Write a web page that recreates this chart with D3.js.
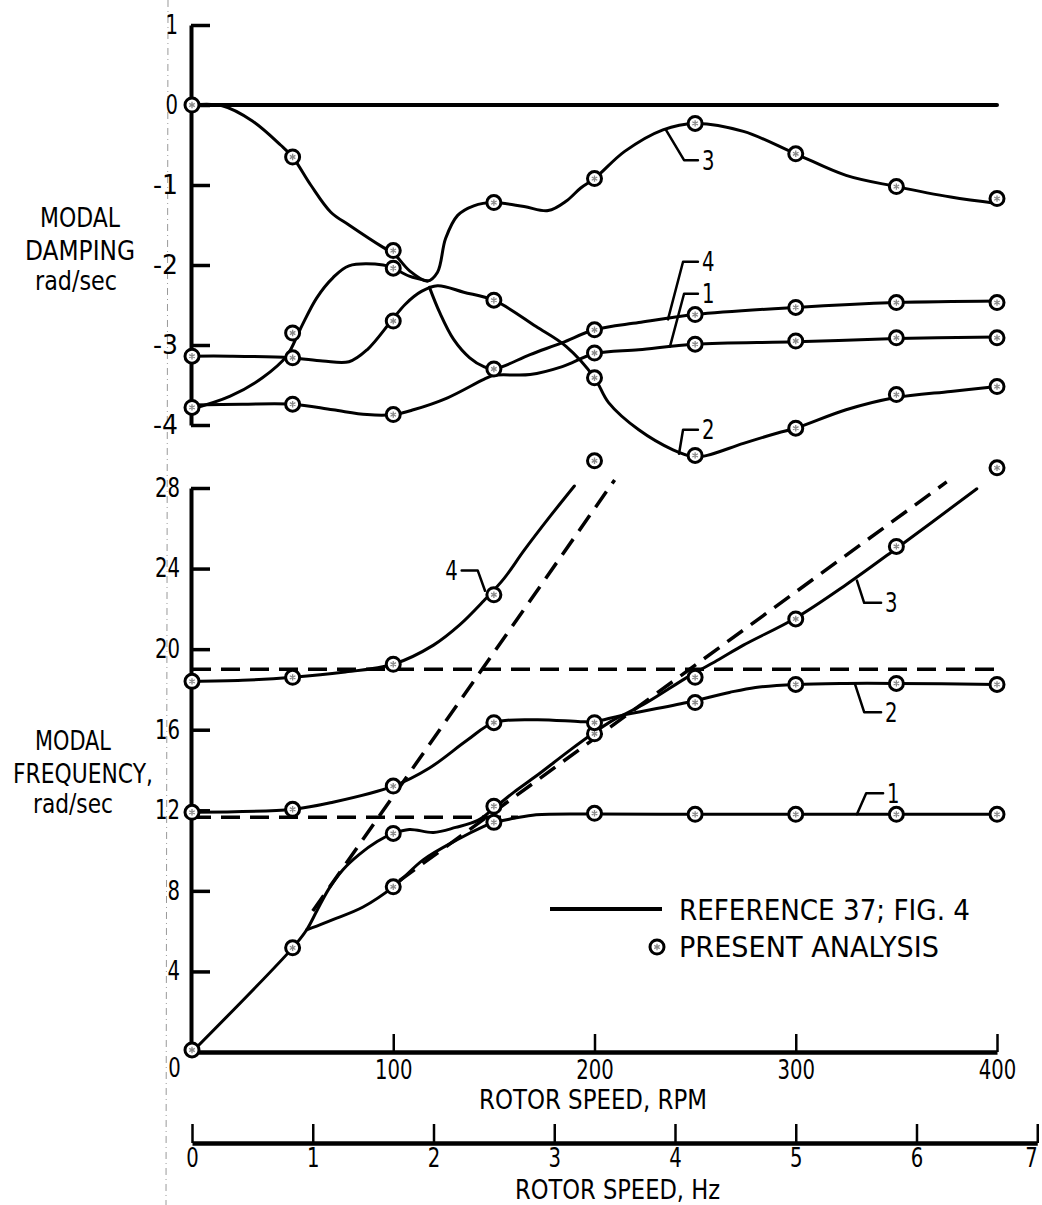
<!DOCTYPE html>
<html>
<head>
<meta charset="utf-8">
<script src="https://cdn.jsdelivr.net/npm/d3@7"></script>
<style>
  body { margin: 0; background: #fff; }
  svg text { fill: #000; }
</style>
</head>
<body>
<div id="chart"></div>
<script>
// Axis Ticks
var dampTicks = [1, 0, -1, -2, -3, -4];
var freqTicks = [4, 8, 12, 16, 20, 24, 28];
var rpmTicks = [0, 100, 200, 300, 400];
var hzTicks = [0, 1, 2, 3, 4, 5, 6, 7];

// Modal Damping Curves (Reference 37, Fig. 4) - [rpm, rad/sec]
var zeroLine = [[0, 0], [400, 0]];
var dampMode3 = [[0, 0], [15, -0.01], [30, -0.2], [44, -0.5], [50, -0.65], [59, -1.0], [69, -1.34],
  [78, -1.5], [95, -1.78], [100, -1.85], [108, -2.07], [117, -2.2], [122, -2.09], [126, -1.67],
  [132, -1.38], [140, -1.26], [150, -1.22], [165, -1.27], [177, -1.32], [186, -1.2], [193, -1.04],
  [200, -0.92], [215, -0.58], [234, -0.31], [250, -0.23], [274, -0.33], [300, -0.61], [325, -0.88],
  [350, -1.02], [377, -1.15], [400, -1.23]];
var dampJoin = [[0, -3.8], [19, -3.64], [35, -3.41], [47, -3.14], [54, -2.79], [62, -2.41], [70, -2.16],
  [78, -2.01], [95, -2.0], [100, -2.04], [108, -2.14], [117, -2.2]];
var dampMode2 = [[0, -3.14], [19, -3.14], [49, -3.16], [65, -3.2], [78, -3.21], [87, -3.06], [99, -2.7],
  [106, -2.49], [114, -2.33], [122, -2.26], [135, -2.34], [150, -2.44], [171, -2.77], [186, -3.02],
  [200, -3.41], [207, -3.72], [222, -4.06], [239, -4.31], [250, -4.4], [256, -4.38], [274, -4.23],
  [291, -4.1], [300, -4.04], [325, -3.81], [349, -3.66], [377, -3.58], [400, -3.52]];
var dampMode4 = [[118, -2.28], [123, -2.59], [130, -2.93], [138, -3.16], [145, -3.27], [150, -3.3],
  [168, -3.12], [184, -2.97], [200, -2.81], [222, -2.72], [250, -2.62], [300, -2.53], [350, -2.47],
  [400, -2.45]];
var dampMode1 = [[0, -3.75], [25, -3.74], [50, -3.74], [70, -3.81], [87, -3.87], [100, -3.87],
  [110, -3.81], [127, -3.66], [145, -3.43], [150, -3.38], [168, -3.37], [184, -3.27], [200, -3.11],
  [222, -3.06], [250, -2.99], [300, -2.96], [350, -2.92], [400, -2.9]];

// Modal Frequency Curves - [rpm, rad/sec]
var freqMode4 = [[0, 18.4], [25, 18.45], [50, 18.6], [75, 18.85], [100, 19.25], [120, 20.2],
  [133, 21.2], [145, 22.4], [155, 23.5], [165, 24.9], [178, 26.6], [190, 28.1]];
var freqMode2 = [[0, 11.9], [50, 12.05], [70, 12.4], [100, 13.2], [118, 14.1], [137, 15.5],
  [150, 16.35], [171, 16.5], [193, 16.4], [200, 16.4], [213, 16.7], [246, 17.35], [267, 17.85],
  [280, 18.1], [300, 18.25], [325, 18.3], [350, 18.3], [400, 18.25]];
var freqMode3 = [[0, 0], [50, 5.17], [57, 6.07], [62, 7.0], [68, 8.1], [75, 9.05], [83, 9.8],
  [92, 10.45], [100, 10.85], [108, 11.05], [120, 10.9], [131, 11.15], [142, 11.5], [150, 12.1],
  [160, 12.9], [171, 13.7], [188, 15.0], [199, 15.8], [208, 16.4], [226, 17.35], [246, 18.6],
  [262, 19.5], [274, 20.2], [300, 21.55], [325, 23.2], [350, 25.0], [390, 27.96]];
var freqMode1 = [[57, 6.07], [62, 6.25], [70, 6.57], [85, 7.2], [100, 8.2], [115, 9.55], [132, 10.55],
  [145, 11.2], [150, 11.4], [160, 11.6], [171, 11.78], [200, 11.82], [250, 11.8], [300, 11.8],
  [350, 11.8], [400, 11.8]];

// Dashed Reference Lines (Frequency Panel)
var dashHigh = [[0, 19.0], [400, 19.0]];
var dashLow = [[0, 11.65], [162, 11.65]];
var dashSteep = [[60, 7.0], [210, 28.4]];
var dashShallow = [[103, 8.5], [375, 28.3]];

// Present Analysis Points - [rpm, rad/sec]
var presentDamping = [
  [0, 0], [0, -3.14], [0, -3.78],
  [50, -0.65], [50, -2.85], [50, -3.16], [50, -3.74],
  [100, -1.82], [100, -2.04], [100, -2.7], [100, -3.87],
  [150, -1.22], [150, -2.44], [150, -3.3],
  [200, -0.92], [200, -2.81], [200, -3.1], [200, -3.41],
  [250, -0.23], [250, -2.62], [250, -2.99], [250, -4.38],
  [300, -0.61], [300, -2.53], [300, -2.95], [300, -4.04],
  [350, -1.02], [350, -2.47], [350, -2.91], [350, -3.62],
  [400, -1.17], [400, -2.47], [400, -2.91], [400, -3.52]];
var presentFrequency = [
  [0, 0.1], [0, 11.9], [0, 18.4],
  [50, 5.17], [50, 12.05], [50, 18.6],
  [100, 8.2], [100, 10.85], [100, 13.2], [100, 19.25],
  [150, 11.4], [150, 12.2], [150, 16.35], [150, 22.7],
  [200, 11.85], [200, 15.8], [200, 16.35], [200, 29.35],
  [250, 11.8], [250, 17.35], [250, 18.6],
  [300, 11.8], [300, 18.25], [300, 21.5],
  [350, 11.8], [350, 18.3], [350, 25.1],
  [400, 11.8], [400, 18.25], [400, 29.0]];

// Mode Number Callouts - leader points in data units
var dampCallouts = [
  {text: '3', pts: [[235.5, -0.31], [244.5, -0.69], [251.4, -0.69]]},
  {text: '4', pts: [[236.5, -2.68], [244, -1.96], [251.4, -1.96]]},
  {text: '1', pts: [[237.5, -3.02], [244.5, -2.36], [251.4, -2.36]]},
  {text: '2', pts: [[242, -4.36], [244, -4.06], [251.4, -4.06]]}
];
var freqCallouts = [
  {text: '3', pts: [[330.4, 23.4], [334, 22.3], [342.4, 22.3]]},
  {text: '2', pts: [[329.4, 18.28], [334, 16.87], [342.4, 16.87]]},
  {text: '1', pts: [[330.4, 11.8], [335, 12.84], [343.4, 12.84]]}
];
var freqCallout4 = {text: '4', pts: [[145.6, 22.9], [142, 23.9], [134, 23.9]]};

var FONT = "'DejaVu Sans', 'Liberation Sans', sans-serif";
var CHAR_W = 12.5; // Narrow Lettering Width Per Character

var svg = d3.select('#chart').append('svg')
    .attr('width', 1042)
    .attr('height', 1205)
    .style('font-family', FONT);

// Scales
var x = d3.scaleLinear().domain([0, 400]).range([192, 997]);
var xHz = d3.scaleLinear().domain([0, 7]).range([x(0), x(420)]);
var yD = d3.scaleLinear().domain([1, -4]).range([25, 425]);
var yF = d3.scaleLinear().domain([0, 28]).range([1052, 488]);

// Faint Page Fold Line From The Scan
svg.append('line')
    .attr('x1', 168).attr('x2', 166).attr('y1', 0).attr('y2', 1205)
    .attr('stroke', '#9a9a9a').attr('stroke-width', 1)
    .attr('stroke-dasharray', '7,4,1,4');

function narrow(sel) {
  sel.attr('textLength', function() { return this.textContent.length * CHAR_W; })
     .attr('lengthAdjust', 'spacingAndGlyphs');
}

function styleAxis(g, domainW, tickW) {
  g.attr('font-family', FONT).attr('font-size', 26);
  g.select('.domain').attr('stroke', '#000').attr('stroke-width', domainW);
  g.selectAll('.tick line').attr('stroke', '#000').attr('stroke-width', tickW);
  g.selectAll('.tick text').attr('fill', '#000').call(narrow);
}

var fmt = function(d) { return String(d); };

// Damping Axis
var gD = svg.append('g').attr('transform', 'translate(191,0)')
    .call(d3.axisLeft(yD).tickValues(dampTicks).tickSize(-19).tickSizeOuter(0)
      .tickPadding(13).tickFormat(fmt));
styleAxis(gD, 4, 3.5);

// Frequency Axis
var gF = svg.append('g').attr('transform', 'translate(191,0)')
    .call(d3.axisLeft(yF).tickValues(freqTicks).tickSize(-19).tickSizeOuter(0)
      .tickPadding(11).tickFormat(fmt));
styleAxis(gF, 4, 3.5);

// RPM Axis
var gX = svg.append('g').attr('transform', 'translate(0,' + yF(0) + ')')
    .call(d3.axisBottom(x).tickValues(rpmTicks).tickSize(-18).tickSizeOuter(0)
      .tickPadding(9).tickFormat(fmt));
styleAxis(gX, 4.5, 2.5);
gX.selectAll('.tick').filter(function(d) { return d === 0; })
    .each(function() {
      d3.select(this).select('line').remove();
      d3.select(this).select('text').attr('x', -18).attr('dy', '0.62em');
    });

// Hz Axis
var gH = svg.append('g').attr('transform', 'translate(0,1143)')
    .call(d3.axisBottom(xHz).tickValues(hzTicks).tickSize(-19).tickSizeOuter(0)
      .tickPadding(6).tickFormat(fmt));
styleAxis(gH, 4.5, 2.5);
// Last Label Sits Against The Page Edge
gH.selectAll('.tick').filter(function(d) { return d === 7; })
    .select('text').attr('text-anchor', 'end').attr('x', 0);

// Axis Titles
function title(txt, x0, y0, w) {
  svg.append('text').attr('x', x0).attr('y', y0)
      .attr('font-size', 27)
      .attr('textLength', w).attr('lengthAdjust', 'spacingAndGlyphs')
      .text(txt);
}
title('MODAL', 40, 227, 80);
title('DAMPING', 25, 260, 110);
title('rad/sec', 35, 290, 82);
title('MODAL', 35, 750, 76);
title('FREQUENCY,', 13, 783, 140);
title('rad/sec', 33, 813, 80);
title('ROTOR SPEED, RPM', 479, 1109, 228);
title('ROTOR SPEED, Hz', 515, 1199, 205);

// Line Generators
var lineD = d3.line().x(function(d) { return x(d[0]); }).y(function(d) { return yD(d[1]); })
    .curve(d3.curveCatmullRom.alpha(0.5));
var lineF = d3.line().x(function(d) { return x(d[0]); }).y(function(d) { return yF(d[1]); })
    .curve(d3.curveCatmullRom.alpha(0.5));
var straightD = d3.line().x(function(d) { return x(d[0]); }).y(function(d) { return yD(d[1]); });
var straightF = d3.line().x(function(d) { return x(d[0]); }).y(function(d) { return yF(d[1]); });

function drawPath(gen, data, w, dash) {
  var p = svg.append('path').datum(data)
      .attr('d', gen)
      .attr('fill', 'none')
      .attr('stroke', '#000')
      .attr('stroke-width', w)
      .attr('stroke-linecap', dash ? 'butt' : 'round')
      .attr('stroke-linejoin', 'round');
  if (dash) p.attr('stroke-dasharray', dash);
  return p;
}

// Damping Panel Lines
drawPath(straightD, zeroLine, 4);
[dampMode3, dampJoin, dampMode2, dampMode4, dampMode1].forEach(function(c) {
  drawPath(lineD, c, 3);
});

// Frequency Panel Lines
[dashHigh, dashLow, dashSteep, dashShallow].forEach(function(c) {
  drawPath(straightF, c, 3.5, '19,10');
});
[freqMode4, freqMode2, freqMode3, freqMode1].forEach(function(c) {
  drawPath(lineF, c, 3);
});

// Callouts
function callout(gen, c, yScale) {
  drawPath(gen, c.pts, 2.5);
  var last = c.pts[c.pts.length - 1];
  var first = c.pts[0];
  var leftSide = last[0] < first[0];
  svg.append('text')
      .attr('x', x(last[0]) + (leftSide ? -4 : 4))
      .attr('y', yScale(last[1]))
      .attr('dy', '0.36em')
      .attr('text-anchor', leftSide ? 'end' : 'start')
      .attr('font-size', 26)
      .text(c.text)
      .call(narrow);
}
dampCallouts.forEach(function(c) { callout(straightD, c, yD); });
freqCallouts.forEach(function(c) { callout(straightF, c, yF); });
callout(straightF, freqCallout4, yF);

// Present Analysis Markers
var star = d3.symbol().type(d3.symbolAsterisk || d3.symbolCross).size(28);
function drawMarkers(data, yScale) {
  var g = svg.append('g');
  var m = g.selectAll('g.mark').data(data).enter().append('g')
      .attr('class', 'mark')
      .attr('transform', function(d) { return 'translate(' + x(d[0]) + ',' + yScale(d[1]) + ')'; });
  m.append('circle').attr('r', 7).attr('fill', '#fff').attr('stroke', '#000').attr('stroke-width', 3);
  m.append('path').attr('d', star).attr('fill', 'none').attr('stroke', '#888').attr('stroke-width', 1.3);
}
drawMarkers(presentDamping, yD);
drawMarkers(presentFrequency, yF);

// Legend
svg.append('line').attr('x1', 550).attr('x2', 662).attr('y1', 909).attr('y2', 909)
    .attr('stroke', '#000').attr('stroke-width', 4);
svg.append('text').attr('x', 679).attr('y', 920).attr('font-size', 29)
    .attr('textLength', 291).attr('lengthAdjust', 'spacingAndGlyphs')
    .text('REFERENCE 37; FIG. 4');
var lm = svg.append('g').attr('transform', 'translate(657,947)');
lm.append('circle').attr('r', 7).attr('fill', '#fff').attr('stroke', '#000').attr('stroke-width', 3);
lm.append('path').attr('d', star).attr('fill', 'none').attr('stroke', '#888').attr('stroke-width', 1.3);
svg.append('text').attr('x', 679).attr('y', 957).attr('font-size', 29)
    .attr('textLength', 260).attr('lengthAdjust', 'spacingAndGlyphs')
    .text('PRESENT ANALYSIS');
</script>
</body>
</html>
